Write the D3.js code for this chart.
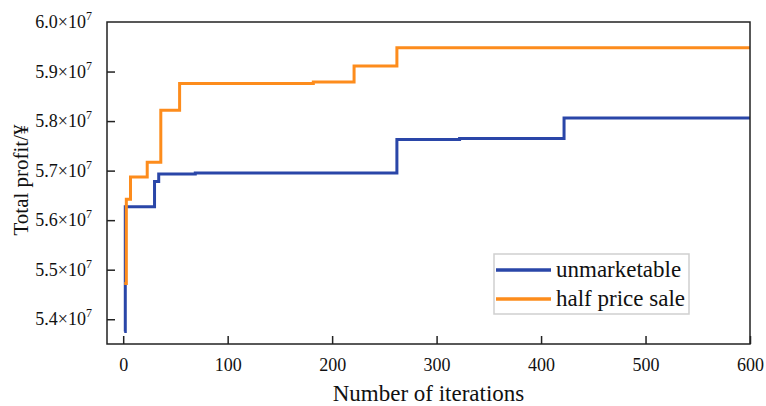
<!DOCTYPE html>
<html>
<head>
<meta charset="utf-8">
<script src="https://cdn.jsdelivr.net/npm/d3@7"></script>
<style>
  html, body { margin: 0; padding: 0; background: #fff; }
  svg text { font-family: 'Liberation Serif', 'Times New Roman', Times, serif !important; fill: #111; }
</style>
</head>
<body>
<svg id="chart" width="766" height="406" style="font-family: 'Liberation Serif', serif;"></svg>
<script>
// ---- data ----
const seriesNames = ["unmarketable", "half price sale"];
const seriesColors = ["#2a46a8", "#fd8c1c"];
const unmarketableIter = [1, 2, 30, 34, 69, 262, 322, 422, 600];
const unmarketableProfit = [5.375e7, 5.627e7, 5.678e7, 5.693e7, 5.695e7, 5.763e7, 5.765e7, 5.806e7, 5.806e7];
const halfPriceIter = [1, 3, 7, 23, 36, 54, 182, 221, 262, 600];
const halfPriceProfit = [5.472e7, 5.642e7, 5.687e7, 5.717e7, 5.822e7, 5.876e7, 5.879e7, 5.911e7, 5.948e7, 5.948e7];
const xTicks = [0, 100, 200, 300, 400, 500, 600];
const yTickMantissa = ["5.4", "5.5", "5.6", "5.7", "5.8", "5.9", "6.0"];
const yTicks = [5.4e7, 5.5e7, 5.6e7, 5.7e7, 5.8e7, 5.9e7, 6.0e7];

// ---- layout ----
const svg = d3.select("#chart");
const L = 107, R = 750, T = 22, B = 344;
const x = d3.scaleLinear().domain([-15.5, 600]).range([L, R]);
const y = d3.scaleLinear().domain([5.35e7, 6.0e7]).range([B, T]);
const FONT = "'Liberation Serif', 'Times New Roman', serif";

// lines
const series = [
  { name: seriesNames[0], color: seriesColors[0], pts: unmarketableIter.map((d, i) => [d, unmarketableProfit[i]]) },
  { name: seriesNames[1], color: seriesColors[1], pts: halfPriceIter.map((d, i) => [d, halfPriceProfit[i]]) }
];
const line = d3.line().x(d => x(d[0])).y(d => y(d[1])).curve(d3.curveStepAfter);
svg.append("g").selectAll("path").data(series).join("path")
  .attr("d", d => line(d.pts))
  .attr("fill", "none")
  .attr("stroke", d => d.color)
  .attr("stroke-width", 3)
  .attr("stroke-linejoin", "miter");

// axes (inward ticks)
const xAxis = d3.axisBottom(x).tickValues(xTicks).tickSizeInner(-8).tickSizeOuter(0).tickPadding(14)
  .tickFormat(d3.format("d"));
const gx = svg.append("g").attr("transform", `translate(0,${B})`).call(xAxis).attr("font-family", null);
gx.select(".domain").remove();
gx.selectAll("line").attr("stroke", "#222").attr("stroke-width", 1.5);
gx.selectAll("text").attr("font-size", 18).style("font-family", FONT).attr("fill", "#111");

const yAxis = d3.axisLeft(y).tickValues(yTicks.slice(0, 6)).tickSizeInner(-8).tickSizeOuter(0).tickFormat("");
const gy = svg.append("g").attr("transform", `translate(${L},0)`).call(yAxis).attr("font-family", null);
gy.select(".domain").remove();
gy.selectAll("line").attr("stroke", "#222").attr("stroke-width", 1.5);

// y tick labels with superscript
const yl = svg.append("g").selectAll("text").data(yTicks).join("text")
  .attr("x", 92).attr("y", d => y(d) + 6)
  .attr("text-anchor", "end").attr("font-size", 18).style("font-family", FONT);
yl.append("tspan").text((d, i) => yTickMantissa[i] + "×10");
yl.append("tspan").attr("dy", -8).attr("font-size", 12).text("7");

// frame
svg.append("rect").attr("x", L).attr("y", T).attr("width", R - L).attr("height", B - T)
  .attr("fill", "none").attr("stroke", "#222").attr("stroke-width", 1.5);

// axis titles
svg.append("text").attr("x", 428.5).attr("y", 401).attr("text-anchor", "middle")
  .attr("font-size", 23).style("font-family", FONT).text("Number of iterations");
svg.append("text").attr("transform", "translate(28,180) rotate(-90)").attr("text-anchor", "middle")
  .attr("font-size", 21).style("font-family", FONT).text("Total profit/¥");

// legend
const lg = svg.append("g");
lg.append("rect").attr("x", 494).attr("y", 254).attr("width", 195).attr("height", 60)
  .attr("fill", "#fff").attr("stroke", "#cfcfcf").attr("stroke-width", 1.5);
series.forEach((s, i) => {
  const yy = 270 + i * 29;
  lg.append("line").attr("x1", 496).attr("x2", 551).attr("y1", yy).attr("y2", yy)
    .attr("stroke", s.color).attr("stroke-width", 3.5);
  lg.append("text").attr("x", 556).attr("y", yy + 7).attr("font-size", 23)
    .style("font-family", FONT).text(s.name);
});
</script>
</body>
</html>
